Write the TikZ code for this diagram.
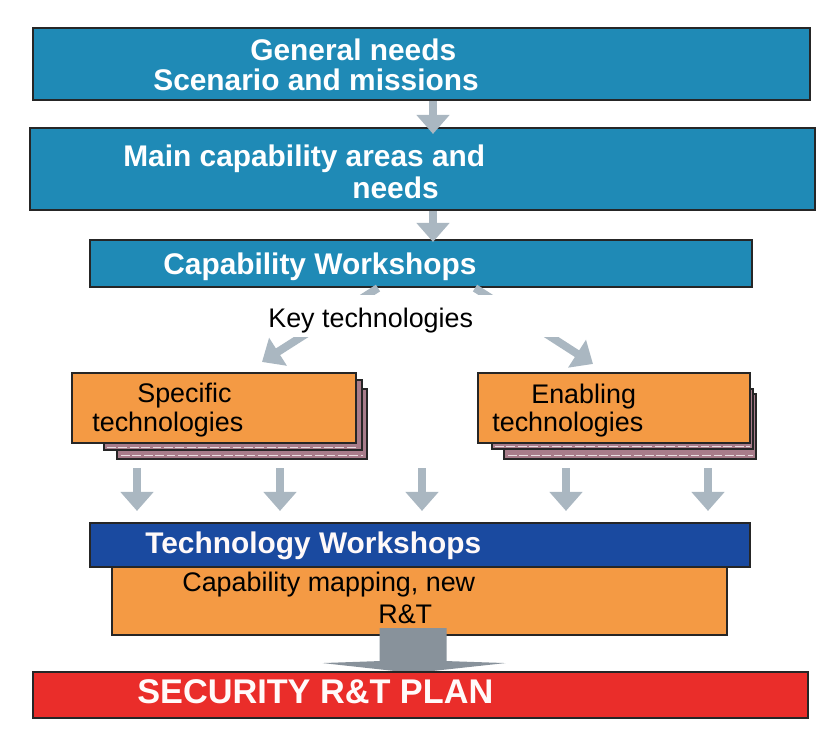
\documentclass[tikz,border=0pt]{standalone}
\usepackage{fontspec}
\setmainfont{Liberation Sans}
\usepackage{xcolor}
\usetikzlibrary{arrows.meta,calc,backgrounds}

\definecolor{capblue}{RGB}{31,138,182}
\definecolor{techblue}{RGB}{26,74,160}
\definecolor{techorange}{RGB}{244,154,68}
\definecolor{planred}{RGB}{234,45,42}
\definecolor{stackmauve}{RGB}{168,124,138}
\definecolor{arrowgray}{RGB}{170,183,193}

\begin{document}
\begin{tikzpicture}[
    x=0.02cm, y=-0.02cm,
    box/.style={rectangle, draw=black!85, line width=1.2pt, inner sep=0pt},
    bluebox/.style={box, fill=capblue},
    orangebox/.style={box, fill=techorange},
    layer/.style={draw=black!85, line width=1.2pt, fill=stackmauve},
    seam/.style={draw=white!75!stackmauve, line width=0.6pt, dash pattern=on 5pt off 1.5pt},
    head/.style={font=\fontsize{17}{18}\selectfont\bfseries, text=white, inner sep=0pt, anchor=base west},
    body/.style={font=\fontsize{15.3}{17}\selectfont, text=black, inner sep=0pt, anchor=base west},
    garrow/.style={draw=arrowgray, line width=4.5pt, -{Triangle[width=0.64cm,length=0.38cm]}}
]
\useasboundingbox (0,0) rectangle (829,735);

% Needs and capability areas
\node[bluebox, minimum width=15.54cm, minimum height=1.44cm] (gen) at (421.5,64) {};
\node[head] (gentxt1) at (250,60) {General needs};
\node[head] (gentxt2) at (153,90) {Scenario and missions};

\node[bluebox, minimum width=15.7cm, minimum height=1.64cm] (main) at (422.5,169) {};
\node[head] (maintxt1) at (123,166) {Main capability areas and};
\node[head] (maintxt2) at (352,198) {needs};

\node[bluebox, minimum width=13.24cm, minimum height=0.94cm] (capws) at (421,263.5) {};
\node[head] (capwstxt) at (163,274) {Capability Workshops};

\draw[garrow] ($(gen.south)+(11.5,0)$) -- ($(main.north)+(10.5,7)$);
\draw[garrow] ($(main.south)+(10.5,0)$) -- ($(capws.north)+(12,3)$);

% Technology stacks
\node[orangebox, minimum width=5.68cm, minimum height=1.4cm] (spec) at (214,408) {};
\node[body] (spectxt1) at (137,402) {Specific};
\node[body] (spectxt2) at (92,431) {technologies};

\node[orangebox, minimum width=5.44cm, minimum height=1.4cm] (enab) at (614,408) {};
\node[body] (enabtxt1) at (531,403) {Enabling};
\node[body] (enabtxt2) at (492,431) {technologies};

\begin{scope}[on background layer]
    \path[layer] ($(spec.south west)+(46,15)$) rectangle ($(spec.north east)+(10,17)$);
    \path[layer] ($(spec.south west)+(33,6)$) rectangle ($(spec.north east)+(5,8)$);
    \path[seam] ($(spec.south west)+(50,11)$) -- ($(spec.south east)+(6,11)$);
    \path[seam] ($(spec.south west)+(36,3)$) -- ($(spec.south east)+(1,3)$);
    \path[layer] ($(enab.south west)+(27,15)$) rectangle ($(enab.north east)+(5,22)$);
    \path[layer] ($(enab.south west)+(15,5)$) rectangle ($(enab.north east)+(2,17)$);
    \path[seam] ($(enab.south west)+(31,11)$) -- ($(enab.south east)+(2,11)$);
    \path[seam] ($(enab.south west)+(18,2)$) -- ($(enab.south east)+(-1,2)$);
\end{scope}

\draw[garrow] ($(capws.south)+(-43,0)$) -- ($(spec.north)+(48,-10)$);
\draw[garrow] ($(capws.south)+(54,0)$) -- ($(enab.north)+(-21,-8)$);
\node[fill=white, inner sep=0pt, minimum width=6.2cm, minimum height=0.84cm, anchor=north west] (key) at (255,295) {};
\node[body] (keytxt) at (268,327) {Key technologies};

% Technology workshops
\node[orangebox, minimum width=12.3cm, minimum height=1.36cm] (capmap) at (419.5,601) {};
\node[body] (capmaptxt1) at (182,591) {Capability mapping, new};
\node[body] (capmaptxt2) at (378,623) {R\&T};

\node[box, fill=techblue, minimum width=13.2cm, minimum height=0.88cm] (techws) at (420,545) {};
\node[head, text=white!90!pink] (techwstxt) at (145,553) {Technology Workshops};

\foreach \x in {137,280,422,566,708}
    \draw[garrow, shorten <=0.48cm, shorten >=0.22cm] (spec.south -| \x,0) -- (techws.north -| \x,0);

% Plan
\fill[arrowgray!80!black] ($(capmap.south)+(-40,-8)$) -- ++(67,0) -- ++(0,33) -- ++(59,2)
    -- ++(-92,10) -- ++(-91,-10) -- ++(57,-2) -- cycle;

\node[box, fill=planred, minimum width=15.5cm, minimum height=0.92cm] (plan) at (420.5,695) {};
\node[head, font=\fontsize{19.5}{20}\selectfont\bfseries, text=white!92!pink] (plantxt) at (137,703) {SECURITY R\&T PLAN};

\end{tikzpicture}
\end{document}
